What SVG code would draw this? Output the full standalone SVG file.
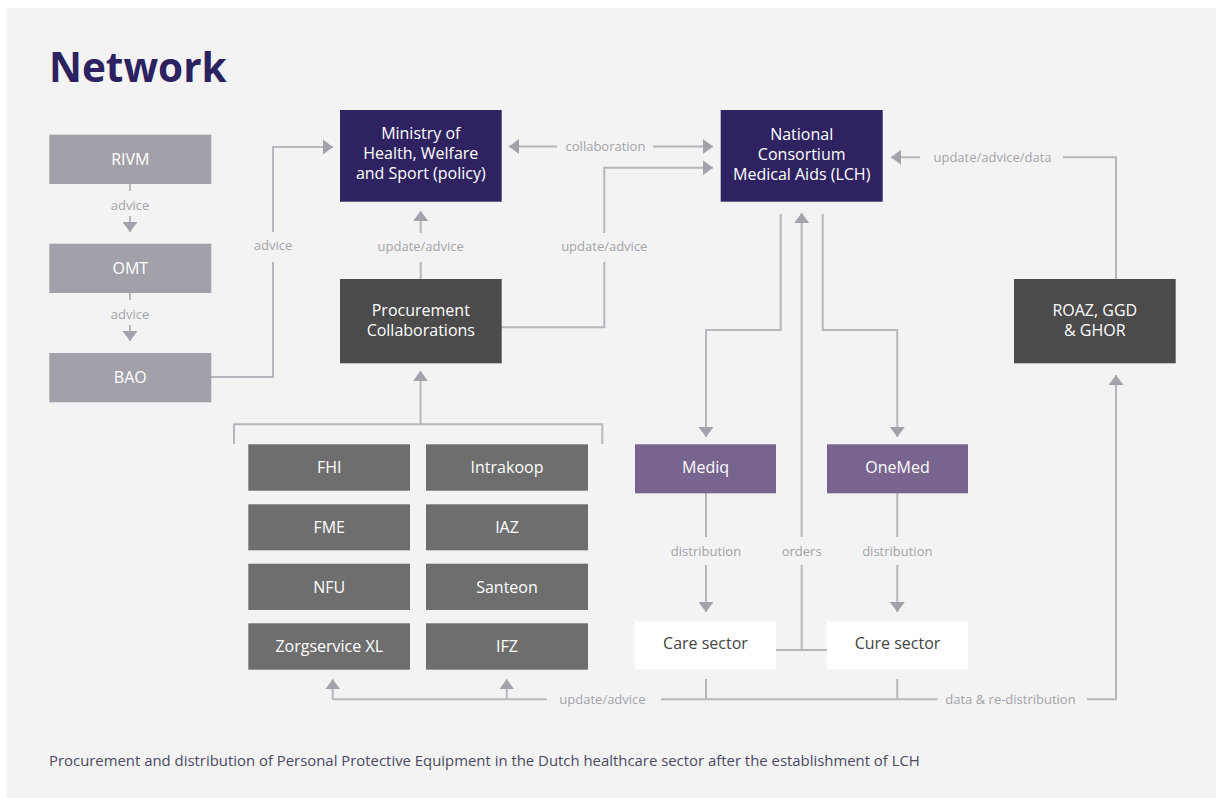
<svg xmlns="http://www.w3.org/2000/svg" width="1216" height="798" viewBox="0 0 1216 798">
<defs>
<marker id="ah" viewBox="0 0 10 15" refX="10" refY="7.5" markerWidth="10" markerHeight="15" markerUnits="userSpaceOnUse" orient="auto-start-reverse">
<path d="M0,0 L10,7.5 L0,15 z" fill="#a3a2aa"/>
</marker>
<style>
.t{font-family:"Open Sans","Noto Sans","DejaVu Sans",sans-serif;text-anchor:middle}
.bx{font-size:16px;fill:#ffffff}
.lb{font-size:13px;fill:#a3a3a9}
.ln{fill:none;stroke:#b7b6bc;stroke-width:2}
.ar{fill:none;stroke:#b7b6bc;stroke-width:2;marker-end:url(#ah)}
.gov{fill:#2e2360}
.dk{fill:#4b4b4b}
.gr{fill:#6e6e6e}
.lg{fill:#a2a1a9}
.pu{fill:#77648f}
.wh{fill:#ffffff}
</style>
</defs>
<rect x="0" y="0" width="1216" height="798" fill="#ffffff"/>
<rect x="7" y="8" width="1209" height="790" fill="#f3f3f3"/>
<text x="49" y="82" style="font-family:'Open Sans','Noto Sans',sans-serif;font-weight:bold;font-size:40.5px;fill:#2c2261">Network</text>

<g id="connectors">
<line class="ln" x1="130" y1="184" x2="130" y2="191"/>
<line class="ar" x1="130" y1="216" x2="130" y2="232"/>
<text class="t lb" x="130" y="209.5">advice</text>
<line class="ln" x1="130" y1="293" x2="130" y2="300"/>
<line class="ar" x1="130" y1="325" x2="130" y2="341"/>
<text class="t lb" x="130" y="318.5">advice</text>
<path class="ln" d="M211,377 H273 V262"/>
<path class="ar" d="M273,232 V147 H333"/>
<text class="t lb" x="273" y="250">advice</text>
<line class="ar" x1="557" y1="146.5" x2="509" y2="146.5"/>
<line class="ar" x1="653" y1="146.5" x2="713" y2="146.5"/>
<text class="t lb" x="605.5" y="151">collaboration</text>
<line class="ln" x1="420.7" y1="279" x2="420.7" y2="262"/>
<line class="ar" x1="420.7" y1="233" x2="420.7" y2="211"/>
<text class="t lb" x="420.7" y="250.5">update/advice</text>
<path class="ln" d="M501,327.3 H604.3 V262"/>
<path class="ar" d="M604.3,233 V167.7 H713"/>
<text class="t lb" x="604.3" y="250.5">update/advice</text>
<path class="ln" d="M234,444 V424.3 H602.3 V444"/>
<line class="ar" x1="420.5" y1="424.3" x2="420.5" y2="371"/>
<path class="ln" d="M1116,279 V157.3 H1063"/>
<line class="ar" x1="920" y1="157.3" x2="891" y2="157.3"/>
<text class="t lb" x="992.5" y="161.8">update/advice/data</text>
<path class="ar" d="M780.7,214 V330 H706 V437"/>
<path class="ar" d="M822.7,214 V330 H897.3 V437"/>
<path class="ln" d="M776,650 H827"/>
<line class="ln" x1="801.7" y1="650" x2="801.7" y2="565"/>
<line class="ar" x1="801.7" y1="537" x2="801.7" y2="213"/>
<text class="t lb" x="801.7" y="555.5">orders</text>
<line class="ln" x1="706" y1="493" x2="706" y2="537"/>
<line class="ar" x1="706" y1="565" x2="706" y2="612"/>
<text class="t lb" x="706" y="555.5">distribution</text>
<line class="ln" x1="897.3" y1="493" x2="897.3" y2="537"/>
<line class="ar" x1="897.3" y1="565" x2="897.3" y2="612"/>
<text class="t lb" x="897.3" y="555.5">distribution</text>
<path class="ln" d="M706,679 V699.3"/>
<path class="ln" d="M897.3,679 V699.3"/>
<path class="ln" d="M546.7,699.3 H332.7"/>
<line class="ar" x1="332.7" y1="699.3" x2="332.7" y2="679.3"/>
<line class="ar" x1="506.7" y1="699.3" x2="506.7" y2="679.3"/>
<line class="ln" x1="661" y1="699.3" x2="937.5" y2="699.3"/>
<text class="t lb" x="602.5" y="703.8">update/advice</text>
<path class="ar" d="M1087,699.3 H1116 V375"/>
<text class="t lb" x="1010.5" y="703.8">data &amp; re-distribution</text>
</g>

<g id="rivm"><rect class="lg" x="49.3" y="134.7" width="162" height="49.3"/><text class="t bx" x="130.3" y="165">RIVM</text></g>
<g id="omt"><rect class="lg" x="49.3" y="243.7" width="162" height="49.3"/><text class="t bx" x="130.3" y="274">OMT</text></g>
<g id="bao"><rect class="lg" x="49.3" y="353" width="162" height="49.3"/><text class="t bx" x="130.3" y="383.3">BAO</text></g>

<g id="ministry"><rect class="gov" x="340" y="110" width="161.7" height="91.7"/>
<text class="t bx" x="420.8" y="139">Ministry of</text>
<text class="t bx" x="420.8" y="159">Health, Welfare</text>
<text class="t bx" x="420.8" y="179">and Sport (policy)</text></g>

<g id="lch"><rect class="gov" x="720.7" y="110" width="162" height="91.7"/>
<text class="t bx" x="801.7" y="139.5">National</text>
<text class="t bx" x="801.7" y="159.5">Consortium</text>
<text class="t bx" x="801.7" y="179.5">Medical Aids (LCH)</text></g>

<g id="procurement"><rect class="dk" x="340" y="279" width="161.7" height="84.3"/>
<text class="t bx" x="420.8" y="315.5">Procurement</text>
<text class="t bx" x="420.8" y="335.5">Collaborations</text></g>

<g id="roaz"><rect class="dk" x="1014" y="279" width="161.7" height="84.3"/>
<text class="t bx" x="1094.8" y="315.5">ROAZ, GGD</text>
<text class="t bx" x="1094.8" y="335.5">&amp; GHOR</text></g>

<g id="fhi"><rect class="gr" x="248.3" y="444.3" width="161.7" height="46.4"/><text class="t bx" x="329.2" y="473">FHI</text></g>
<g id="fme"><rect class="gr" x="248.3" y="504.3" width="161.7" height="46"/><text class="t bx" x="329.2" y="533">FME</text></g>
<g id="nfu"><rect class="gr" x="248.3" y="563.7" width="161.7" height="46.3"/><text class="t bx" x="329.2" y="592.5">NFU</text></g>
<g id="zorgservice"><rect class="gr" x="248.3" y="623.3" width="161.7" height="46.4"/><text class="t bx" x="329.2" y="652">Zorgservice XL</text></g>
<g id="intrakoop"><rect class="gr" x="426" y="444.3" width="162" height="46.4"/><text class="t bx" x="507" y="473">Intrakoop</text></g>
<g id="iaz"><rect class="gr" x="426" y="504.3" width="162" height="46"/><text class="t bx" x="507" y="533">IAZ</text></g>
<g id="santeon"><rect class="gr" x="426" y="563.7" width="162" height="46.3"/><text class="t bx" x="507" y="592.5">Santeon</text></g>
<g id="ifz"><rect class="gr" x="426" y="623.3" width="162" height="46.4"/><text class="t bx" x="507" y="652">IFZ</text></g>

<g id="mediq"><rect class="pu" x="635" y="444.3" width="141" height="49"/><text class="t bx" x="705.5" y="472.5">Mediq</text></g>
<g id="onemed"><rect class="pu" x="827" y="444.3" width="141" height="49"/><text class="t bx" x="897.5" y="472.5">OneMed</text></g>
<g id="care"><rect class="wh" x="635" y="621" width="141" height="48.3"/><text class="t bx" x="705.5" y="649" style="fill:#444444">Care sector</text></g>
<g id="cure"><rect class="wh" x="827" y="621" width="141" height="48.3"/><text class="t bx" x="897.5" y="649" style="fill:#444444">Cure sector</text></g>

<text x="49" y="766" style="font-family:'Open Sans','Noto Sans',sans-serif;font-size:14.9px;fill:#4b4a63">Procurement and distribution of Personal Protective Equipment in the Dutch healthcare sector after the establishment of LCH</text>
</svg>
